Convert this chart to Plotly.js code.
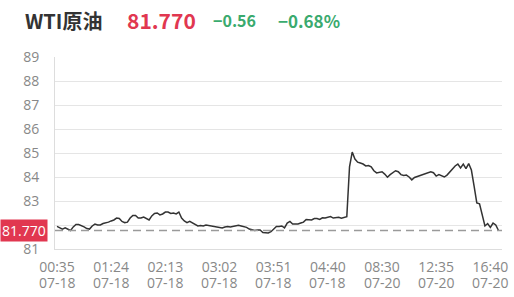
<!DOCTYPE html>
<html><head><meta charset="utf-8">
<script src="https://cdn.plot.ly/plotly-3.0.1.min.js"></script>
<style>html,body{margin:0;padding:0;background:#fff}#chart{width:514px;height:297px}</style>
</head><body><div id="chart"></div>
<script>
const prices = [
81.94,81.88,81.83,81.88,81.81,81.77,81.92,82.02,82.02,81.98,
81.92,81.85,81.83,81.96,82.04,82.00,82.00,82.06,82.08,82.12,
82.17,82.21,82.29,82.27,82.15,82.10,82.12,82.29,82.40,82.40,
82.29,82.29,82.33,82.27,82.21,82.38,82.48,82.50,82.42,82.46,
82.54,82.54,82.48,82.50,82.46,82.54,82.29,82.17,82.10,82.15,
82.08,82.00,81.96,81.98,81.96,82.00,81.98,81.96,81.96,81.92,
81.90,81.88,81.92,81.94,81.92,81.94,81.96,81.99,81.96,81.94,
81.90,81.83,81.79,81.77,81.79,81.79,81.69,81.67,81.67,81.72,
81.83,81.94,81.94,81.96,81.88,82.08,82.15,82.04,82.04,82.04,
82.08,82.12,82.23,82.21,82.21,82.27,82.27,82.23,82.30,82.29,
82.31,82.35,82.29,82.29,82.32,82.28,82.33,82.35,84.42,85.04,
84.75,84.62,84.58,84.54,84.46,84.48,84.42,84.26,84.17,84.21,
84.22,84.12,83.99,84.10,84.19,84.26,84.22,84.10,84.06,84.08,
84.00,83.88,83.98,84.02,84.06,84.10,84.15,84.21,84.22,84.18,
84.04,84.10,84.04,84.00,84.08,84.21,84.33,84.46,84.54,84.38,
84.54,84.35,84.56,84.29,83.62,82.92,82.88,82.42,81.96,82.06,
81.90,82.08,82.00,81.77
];
const tickIndex = [0,20,40,60,80,100,120,140,160];
const tickTimes = ["00:35","01:24","02:13","03:02","03:51","04:40","08:30","12:35","16:40"];
const tickDates = ["07-18","07-18","07-18","07-18","07-18","07-18","07-20","07-20","07-20"];
const yTicks = [81,82,83,84,85,86,87,88,89];
const lastPrice = 81.770;
const prevClose = 81.77;
const change = "−0.56";
const changePct = "−0.68%";
const name = "WTI原油";

const xs = prices.map((_, i) => i);

const L = 55, R = 502, T = 57, B = 249;
const px = v => (v - L) / (R - L);
const py = v => (B - v) / (B - T);

const red = "#e13750", green = "#3aaa6e";
const font = "'Noto Sans CJK SC', 'Noto Sans', sans-serif";
const tfont = "'Open Sans', sans-serif";

const dateAnns = tickIndex.map((ix, i) => ({
  xref: "x", yref: "paper", x: ix, y: py(282.5), xanchor: "center", yanchor: "middle",
  text: tickDates[i], showarrow: false, font: {family: tfont, size: 14, color: "#888888"}
}));

Plotly.newPlot("chart", [{
  x: xs, y: prices, type: "scatter", mode: "lines",
  line: {color: "#333333", width: 1.5}, hoverinfo: "none"
}], {
  width: 514, height: 297,
  margin: {l: L, r: 514 - R, t: T, b: 297 - B},
  paper_bgcolor: "#fff", plot_bgcolor: "#fff",
  showlegend: false,
  xaxis: {
    range: [-0.74, 164.3], tickmode: "array", tickvals: tickIndex, ticktext: tickTimes,
    showgrid: false, zeroline: false, showline: true, linecolor: "#dddddd", linewidth: 1,
    ticks: "", ticklabelstandoff: 5,
    tickfont: {family: tfont, size: 14, color: "#888888"}, fixedrange: true
  },
  yaxis: {
    range: [81, 89], tickmode: "array", tickvals: yTicks,
    showgrid: true, gridcolor: "#e5e5e5", gridwidth: 1, zeroline: false,
    showline: true, linecolor: "#dddddd", linewidth: 1, ticks: "",
    ticklabelstandoff: 12,
    tickfont: {family: tfont, size: 14, color: "#888888"}, fixedrange: true
  },
  shapes: [{
    type: "line", xref: "paper", x0: 0, x1: 1, yref: "y", y0: prevClose, y1: prevClose,
    line: {color: "#9a9a9a", width: 1.5, dash: "8px,5px"}
  }],
  annotations: dateAnns.concat([
    {xref: "paper", yref: "y", x: px(0), y: lastPrice, xanchor: "left", yanchor: "middle",
     text: lastPrice.toFixed(3), showarrow: false, bgcolor: red, borderpad: 1,
     font: {family: tfont, size: 14, color: "#ffffff"}},
    {xref: "paper", yref: "paper", x: px(23), y: py(20), xanchor: "left", yanchor: "middle",
     text: "<b>" + name + "</b>", showarrow: false, font: {family: font, size: 20, color: "#333333"}},
    {xref: "paper", yref: "paper", x: px(125), y: py(20), xanchor: "left", yanchor: "middle",
     text: "<b>" + lastPrice.toFixed(3) + "</b>", showarrow: false, font: {family: font, size: 21, color: red}},
    {xref: "paper", yref: "paper", x: px(211), y: py(20), xanchor: "left", yanchor: "middle",
     text: "<b>" + change + "</b>", showarrow: false, font: {family: font, size: 16, color: green}},
    {xref: "paper", yref: "paper", x: px(276), y: py(20), xanchor: "left", yanchor: "middle",
     text: "<b>" + changePct + "</b>", showarrow: false, font: {family: font, size: 17, color: green}}
  ])
}, {staticPlot: true, displayModeBar: false});
</script>
</body></html>
